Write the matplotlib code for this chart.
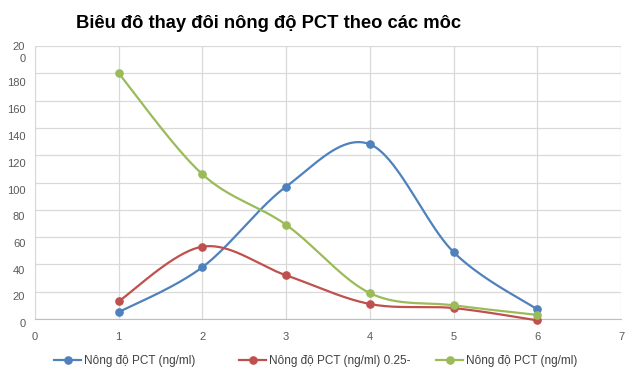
import numpy as np
import matplotlib
matplotlib.use("Agg")
import matplotlib.pyplot as plt
from matplotlib.lines import Line2D
from matplotlib.transforms import ScaledTranslation

plt.rcParams['font.family'] = ['Liberation Sans', 'DejaVu Sans']

title = "Biêu đô thay đôi nông độ PCT theo các môc"
moc = [1, 2, 3, 4, 5, 6]
pct_blue = [5, 38, 97, 128, 49, 7]
pct_red = [13, 53, 32, 11, 8, -1]
pct_green = [180, 106, 69, 19, 10, 3]
labels = ["Nông độ PCT (ng/ml)", "Nông độ PCT (ng/ml) 0.25-", "Nông độ PCT (ng/ml)"]
colors = ["#4F81BD", "#C0504D", "#9BBB59"]
yticks = list(range(0, 201, 20))
ytick_labels = [str(v) for v in yticks[:-1]] + ["20\n0"]
xticks = list(range(0, 8))


def smooth(xs, ys, n=40):
    # Catmull-Rom style bezier through the points (like Excel "smoothed line")
    p = np.column_stack([xs, ys]).astype(float)
    ext = np.vstack([p[0], p, p[-1]])
    t = np.linspace(0, 1, n)[:, None]
    out = []
    for i in range(1, len(ext) - 2):
        p0, p1, p2, p3 = ext[i - 1], ext[i], ext[i + 1], ext[i + 2]
        c1 = p1 + (p2 - p0) / 6.0
        c2 = p2 - (p3 - p1) / 6.0
        seg = ((1 - t) ** 3) * p1 + 3 * ((1 - t) ** 2) * t * c1 + 3 * (1 - t) * t ** 2 * c2 + t ** 3 * p2
        out.append(seg if i == 1 else seg[1:])
    out = np.vstack(out)
    return out[:, 0], out[:, 1]


fig = plt.figure(figsize=(6.25, 3.68), dpi=100)
ax = fig.add_axes([35 / 625, 1 - 319 / 368, 586 / 625, (319 - 46) / 368])

for ys, c in zip([pct_blue, pct_red, pct_green], colors):
    sx, sy = smooth(moc, ys)
    ax.plot(sx, sy, color=c, lw=1.6, solid_capstyle='round', zorder=3, clip_on=False)
    ax.plot(moc, ys, 'o', color=c, ms=5.2, zorder=4, clip_on=False)

ax.set_xlim(0, 7)
ax.set_ylim(0, 200)
ax.set_xticks(xticks)
ax.set_yticks(yticks)
ax.set_yticklabels(ytick_labels)
ax.grid(True, color="#D9D9D9", lw=0.9)
ax.set_axisbelow(True)
ax.tick_params(length=0, labelsize=8, labelcolor="#595959")
ax.tick_params(axis='y', pad=7)
ax.tick_params(axis='x', pad=9)
for s in ['top', 'right']:
    ax.spines[s].set_visible(False)
ax.spines['left'].set_color("#D9D9D9")
ax.spines['bottom'].set_color("#BFBFBF")

# y labels sit a little below their gridlines
for v, lab in zip(yticks, ax.get_yticklabels()):
    off = 5 if v == 200 else min(4 + v * 0.03, 9)
    lab.set_transform(lab.get_transform() + ScaledTranslation(0, -off / 100, fig.dpi_scale_trans))
    lab.set_linespacing(1.25)

fig.text(76 / 625, 1 - 23 / 368, title, fontsize=13.2, fontweight='bold', color="#000000",
         ha='left', va='center')

# legend entries along the bottom
for x0, lab, c in zip([54, 239, 436], labels, colors):
    h = Line2D([], [], color=c, lw=1.6, marker='o', ms=5.2)
    leg = fig.legend([h], [lab], loc='center left', bbox_to_anchor=(x0 / 625, 1 - 361 / 368),
                     frameon=False, fontsize=8.5, handlelength=2.3, handletextpad=0.25,
                     borderpad=0, borderaxespad=0)
    for t in leg.get_texts():
        t.set_color("#404040")

fig.savefig("out.png", dpi=100)
